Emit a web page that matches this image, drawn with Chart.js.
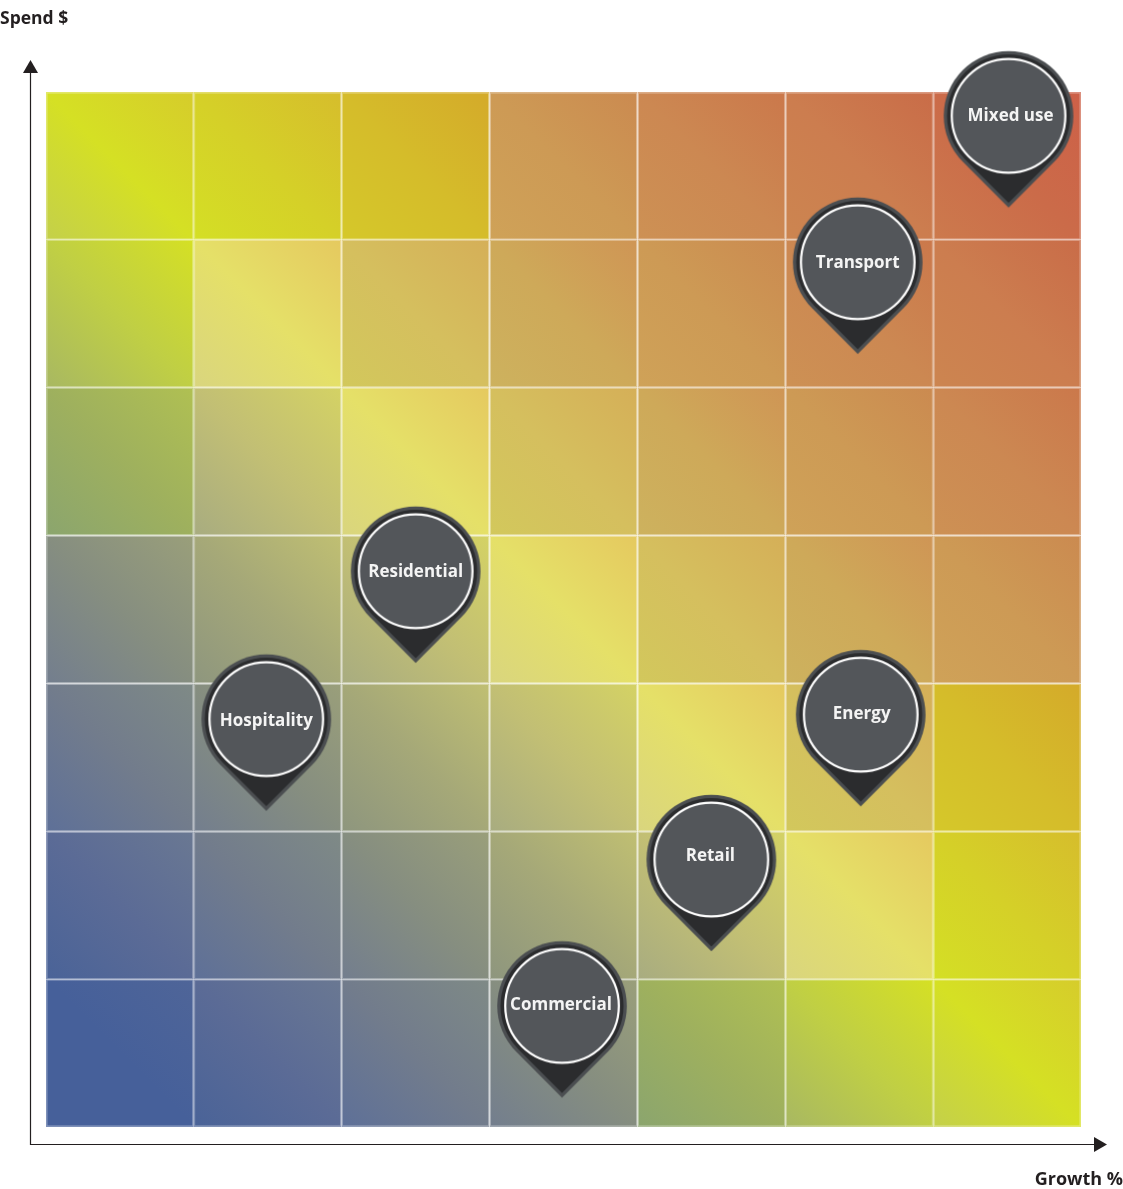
<!DOCTYPE html>
<html>
<head>
<meta charset="utf-8">
<title>Spend vs Growth</title>
<style>
  html, body { margin: 0; padding: 0; background: #fff; }
  canvas { display: block; }
</style>
<script src="https://cdn.jsdelivr.net/npm/chart.js@4/dist/chart.umd.min.js"></script>
</head>
<body>
<canvas id="matrixChart" width="1123" height="1189"></canvas>
<script>
const gridColumns = [0, 1, 2, 3, 4, 5, 6];
const gridRows = [0, 1, 2, 3, 4, 5, 6];

const pinLabels = ["Mixed use", "Transport", "Residential", "Hospitality", "Energy", "Retail", "Commercial"];
const pinGrowth = [6.51, 5.49, 2.5, 1.49, 5.51, 4.5, 3.49];
const pinSpend = [6.22, 5.23, 3.14, 2.14, 2.17, 1.19, 0.2];

const xAxisLabel = "Growth %";
const yAxisLabel = "Spend $";

// gradient stops per diagonal (column + row), bottom left -> middle -> top right
const innerStops = [
  ["#46609a", "#46609a", "#4f6598"],
  ["#4a6398", "#5b6b96", "#6a7892"],
  ["#5e7098", "#727c8c", "#7f8a86"],
  ["#737e8e", "#868e80", "#9a9f7a"],
  ["#8e967e", "#a5a878", "#c0bf72"],
  ["#a8ac80", "#c2bf74", "#d4d264"],
  ["#d9d57e", "#e5e068", "#e5c95f"],
  ["#d2c85c", "#d5bf5e", "#d5af58"],
  ["#cdb25e", "#cea959", "#cf9555"],
  ["#cfa258", "#cd9a55", "#cb8a50"],
  ["#cd9154", "#cc8852", "#cb784b"],
  ["#cc8550", "#cc7d4f", "#c96c48"],
  ["#cc7a4d", "#cb6b49", "#cd6048"],
];
// the two corners next to the yellow band are stronger
const cornerStops = {
  4: ["#8ba56e", "#9eb05e", "#b0c052"],
  5: ["#a8b862", "#c0cf44", "#d5e024"],
  6: ["#c4d04a", "#d5e024", "#d6cc2b"],
  7: ["#d4df25", "#d5d028", "#d6bd2c"],
  8: ["#d5c82a", "#d5bc2a", "#d4aa2a"],
};

const isCorner = (col, row) => {
  return (col === 0 && row >= 4) || (row === 6 && col <= 2) || (row === 0 && col >= 4) || (col === 6 && row <= 2);
};

const mixWhite = (hex, amount) => {
  const parts = [1, 3, 5].map((i) => parseInt(hex.substr(i, 2), 16));
  const mixed = parts.map((v) => Math.round(v + (255 - v) * amount));
  return `rgb(${mixed[0]}, ${mixed[1]}, ${mixed[2]})`;
};

const cellGradient = (context, whiteAmount) => {
  const chart = context.chart;
  const raw = context.raw;
  if (!raw || !chart.chartArea) return "transparent";
  const col = raw.x - 0.5;
  const row = raw.y[0];
  const diagonal = col + row;
  const stops = isCorner(col, row) ? cornerStops[diagonal] : innerStops[diagonal];
  const x = chart.scales.x;
  const y = chart.scales.y;
  const x0 = x.getPixelForValue(col);
  const y0 = y.getPixelForValue(row);
  const x1 = x.getPixelForValue(col + 1);
  const y1 = y.getPixelForValue(row + 1);
  if (![x0, y0, x1, y1].every(Number.isFinite)) return "transparent";
  const gradient = chart.ctx.createLinearGradient(x0, y0, x1, y1);
  stops.forEach((color, i) => {
    gradient.addColorStop(i / 2, mixWhite(color, whiteAmount));
  });
  return gradient;
};

const cellData = [];
for (let row of gridRows) {
  for (let col of gridColumns) {
    cellData.push({ x: col + 0.5, y: [row, row + 1] });
  }
}

// pin image, the tip sits in the middle of the canvas so it lands on the data point
const makePin = () => {
  const canvas = document.createElement("canvas");
  canvas.width = 140;
  canvas.height = 320;
  const ctx = canvas.getContext("2d");
  const tipX = 70;
  const tipY = 160;
  const centerY = tipY - 91.5;
  const shape = (radius) => {
    ctx.beginPath();
    ctx.arc(tipX, centerY, radius, Math.PI * 0.75, Math.PI * 0.25);
    ctx.lineTo(tipX, centerY + radius * Math.SQRT2);
    ctx.closePath();
  };
  ctx.fillStyle = "#4b4e51";
  shape(64.8);
  ctx.fill();
  ctx.fillStyle = "#2b2c2e";
  shape(61.5);
  ctx.fill();
  ctx.beginPath();
  ctx.arc(tipX, centerY, 56.8, 0, Math.PI * 2);
  ctx.fillStyle = "#53565a";
  ctx.fill();
  ctx.lineWidth = 2.2;
  ctx.strokeStyle = "#ffffff";
  ctx.stroke();
  return canvas;
};

const labelNudge = {
  "Mixed use": [2, -1],
  Hospitality: [0, 1],
  Energy: [1, -1],
  Retail: [-1, -4],
  Commercial: [-1, -2],
};

const pinText = {
  id: "pinText",
  afterDatasetsDraw(chart) {
    const ctx = chart.ctx;
    const points = chart.getDatasetMeta(1).data;
    ctx.save();
    ctx.fillStyle = "#f4f4f4";
    ctx.font = 'bold 17px "Open Sans"';
    ctx.textAlign = "center";
    ctx.textBaseline = "middle";
    pinLabels.forEach((label, i) => {
      const nudge = labelNudge[label] || [0, 0];
      ctx.fillText(label, points[i].x + nudge[0], points[i].y - 90.5 + nudge[1]);
    });
    ctx.restore();
  },
};

const arrowAxes = {
  id: "arrowAxes",
  afterDraw(chart) {
    const ctx = chart.ctx;
    const area = chart.chartArea;
    const originX = area.left - 15.5;
    const originY = area.bottom + 17.5;
    ctx.save();
    ctx.strokeStyle = "#231f20";
    ctx.fillStyle = "#231f20";
    ctx.lineWidth = 1.2;
    ctx.beginPath();
    ctx.moveTo(originX, area.top - 20);
    ctx.lineTo(originX, originY);
    ctx.lineTo(area.right + 14, originY);
    ctx.stroke();
    ctx.beginPath();
    ctx.moveTo(originX, area.top - 32);
    ctx.lineTo(originX - 7.5, area.top - 19);
    ctx.lineTo(originX + 7.5, area.top - 19);
    ctx.closePath();
    ctx.fill();
    ctx.beginPath();
    ctx.moveTo(area.right + 26, originY);
    ctx.lineTo(area.right + 13, originY - 7.5);
    ctx.lineTo(area.right + 13, originY + 7.5);
    ctx.closePath();
    ctx.fill();
    ctx.font = 'bold 17.5px "Open Sans"';
    ctx.textBaseline = "middle";
    ctx.textAlign = "left";
    ctx.fillText(yAxisLabel, 0, 19);
    ctx.font = 'bold 18px "Open Sans"';
    ctx.textAlign = "right";
    ctx.fillText(xAxisLabel, 1123, 1180);
    ctx.restore();
  },
};

new Chart(document.getElementById("matrixChart").getContext("2d"), {
  data: {
    datasets: [
      {
        type: "bar",
        data: cellData,
        grouped: false,
        barPercentage: 1,
        categoryPercentage: 1,
        inflateAmount: 0,
        borderSkipped: false,
        borderWidth: 1.2,
        backgroundColor: (context) => cellGradient(context, 0),
        borderColor: (context) => cellGradient(context, 0.3),
        order: 2,
      },
      {
        type: "scatter",
        data: pinGrowth.map((growth, i) => ({ x: growth, y: pinSpend[i] })),
        pointStyle: makePin(),
        clip: false,
        order: 1,
      },
    ],
  },
  options: {
    responsive: false,
    animation: false,
    layout: { padding: { left: 46, right: 42, top: 92, bottom: 62 } },
    plugins: { legend: { display: false }, tooltip: { enabled: false } },
    scales: {
      x: { type: "linear", min: 0, max: 7, offset: false, display: false },
      y: { type: "linear", min: 0, max: 7, display: false },
    },
  },
  plugins: [pinText, arrowAxes],
});
</script>
</body>
</html>
